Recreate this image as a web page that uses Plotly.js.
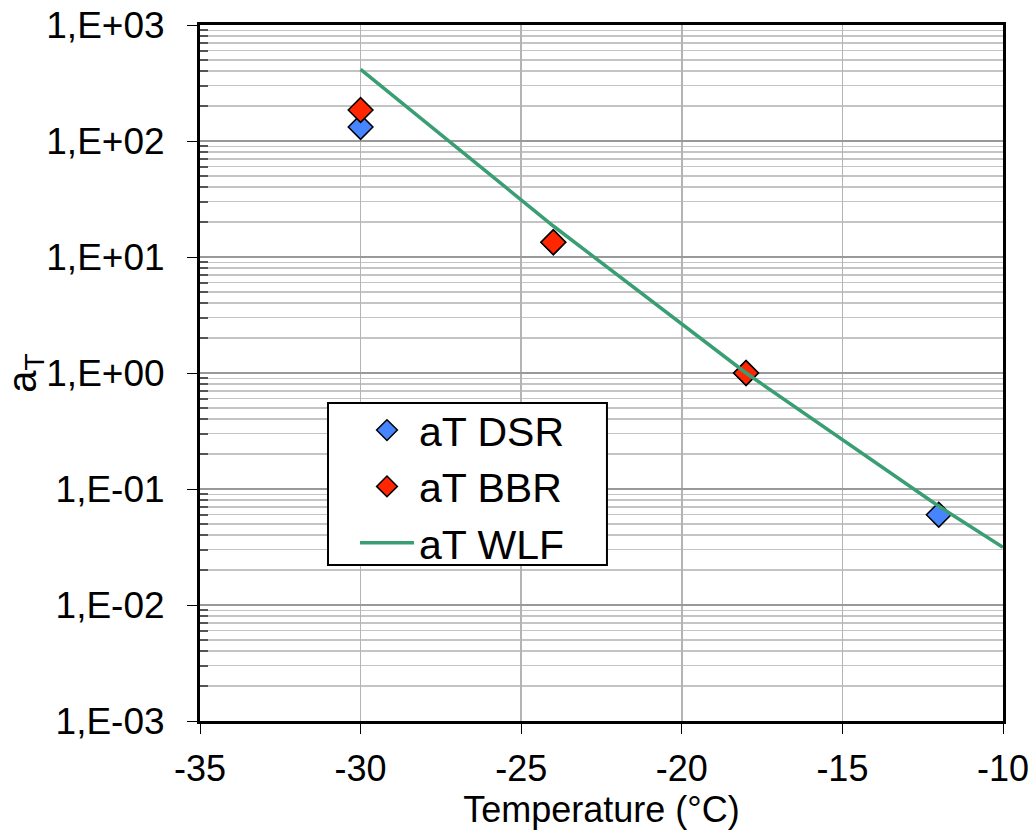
<!DOCTYPE html>
<html><head><meta charset="utf-8">
<script src="https://cdn.plot.ly/plotly-3.0.1.min.js"></script>
<style>body{margin:0;background:#fff}#chart{width:1034px;height:837px}</style>
</head><body><div id="chart"></div>
<script>
// Data
var dsrTemp = [-30, -24, -18, -12];
var dsrAT = [132, 13.4, 1.0, 0.060];
var bbrTemp = [-30, -24, -18];
var bbrAT = [185, 13.4, 1.0];
var wlfTemp = [-30, -24, -18, -12, -10];
var wlfAT = [415, 18.5, 1.0, 0.071, 0.0314];
var yTickVals = [1e-3, 1e-2, 1e-1, 1e0, 1e1, 1e2, 1e3];
var yTickText = ["1,E-03", "1,E-02", "1,E-01", "1,E+00", "1,E+01", "1,E+02", "1,E+03"];
var xTickVals = [-35, -30, -25, -20, -15, -10];
var xTickText = ["-35", "-30", "-25", "-20", "-15", "-10"];

var minorVals = [];
for (var e = -3; e < 3; e++) { for (var m = 2; m <= 9; m++) minorVals.push(m * Math.pow(10, e)); }

var FONT = "Liberation Sans, Arial, sans-serif";
var traces = [
  {x: dsrTemp, y: dsrAT, name: "aT DSR", mode: "markers", type: "scatter", legendgroup: "a",
   marker: {symbol: "diamond", size: 19, color: "#4784ff", line: {color: "#000", width: 1.5}}},
  {x: bbrTemp, y: bbrAT, name: "aT BBR", mode: "markers", type: "scatter", legendgroup: "b",
   marker: {symbol: "diamond", size: 19, color: "#ff2600", line: {color: "#000", width: 1.5}}},
  {x: wlfTemp, y: wlfAT, name: "aT WLF", mode: "lines", type: "scatter", legendgroup: "c",
   line: {color: "#3a9e74", width: 3.5}}
];
var layout = {
  width: 1034, height: 837,
  margin: {l: 200, r: 31, t: 25, b: 116},
  paper_bgcolor: "#fff", plot_bgcolor: "#fff",
  font: {family: FONT, size: 36, color: "#000"},
  showlegend: true,
  legend: {x: 0.193, y: 0.4656, xanchor: "left", yanchor: "top", bgcolor: "rgba(0,0,0,0)",
    borderwidth: 0, font: {size: 41, family: FONT},
    traceorder: "grouped", tracegroupgap: 0, itemwidth: 54},
  shapes: [{type: "rect", xref: "paper", yref: "paper", x0: 0.1594, x1: 0.5068, y0: 0.2241, y1: 0.4569,
    fillcolor: "#fff", line: {color: "#000", width: 2}, layer: "above"}],
  xaxis: {range: [-35, -10], tickmode: "array", tickvals: xTickVals, ticktext: xTickText,
    showgrid: true, gridcolor: "#b4b4b4", gridwidth: 1.5,
    ticks: "outside", ticklen: 10, tickwidth: 1, tickcolor: "#000",
    showline: true, linecolor: "#000", linewidth: 3, mirror: true, zeroline: false,
    tickfont: {size: 36}, ticklabelstandoff: 4,
    title: {text: "Temperature (°C)", font: {size: 36}, standoff: 8}},
  yaxis: {type: "log", range: [-3, 3], tickmode: "array", tickvals: yTickVals, ticktext: yTickText,
    showgrid: true, gridcolor: "#999", gridwidth: 2,
    ticks: "outside", ticklen: 10, tickwidth: 1, tickcolor: "#000",
    showline: true, linecolor: "#000", linewidth: 3, mirror: true, zeroline: false,
    tickfont: {size: 37}, ticklabelstandoff: 15,
    minor: {tickmode: "array", tickvals: minorVals, ticks: "inside", ticklen: 8, tickwidth: 2,
      tickcolor: "#555", showgrid: true, gridcolor: "#c4c4c4", gridwidth: 1.5},
    title: {text: "a<sub>T</sub>", font: {size: 40}, standoff: 6}}
};
Plotly.newPlot("chart", traces, layout, {displayModeBar: false, staticPlot: true});
</script></body></html>
